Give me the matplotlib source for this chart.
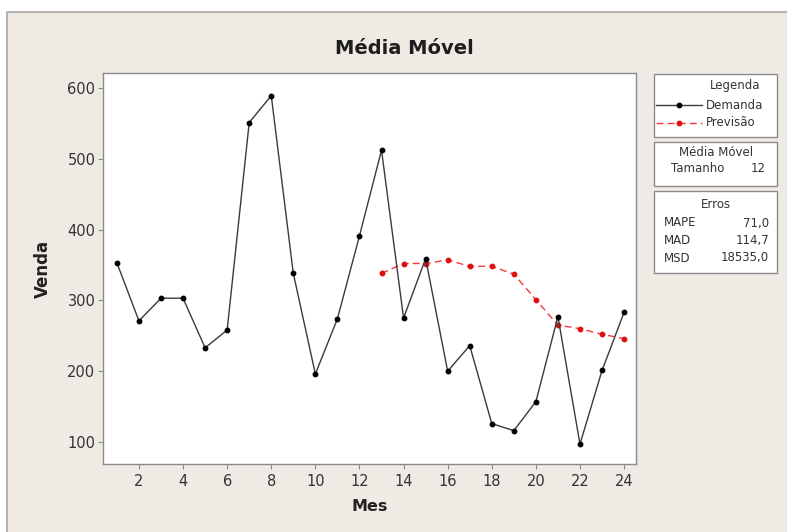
import matplotlib
matplotlib.use("Agg")
import matplotlib.pyplot as plt
from matplotlib.patches import Rectangle
from matplotlib.lines import Line2D

# ---- data ----
meses = list(range(1, 25))
demanda = [353, 271, 303, 303, 233, 258, 551, 589, 338, 196, 274, 391,
           512, 275, 359, 200, 236, 126, 116, 157, 277, 97, 201, 283]
meses_prev = list(range(13, 25))
previsao = [338, 352, 352, 357, 348, 348, 337, 301, 265, 260, 252, 246]
xticks = [2, 4, 6, 8, 10, 12, 14, 16, 18, 20, 22, 24]
yticks = [100, 200, 300, 400, 500, 600]
tamanho = 12
erros_lbl = ["MAPE", "MAD", "MSD"]
erros_val = ["71,0", "114,7", "18535,0"]

W, H = 787, 532
fig = plt.figure(figsize=(W / 100, H / 100), dpi=100)
fig.patch.set_facecolor("white")

def fx(px):
    return px / W

def fy(py):
    return 1 - py / H

beige = "#efebe4"
# panel background
fig.patches.append(Rectangle((fx(7), fy(540)), fx(800) - fx(7), fy(12) - fy(540),
                             transform=fig.transFigure, facecolor=beige,
                             edgecolor="#a8a6a2", linewidth=1.2, zorder=-10))

ax = fig.add_axes([fx(103), fy(464), fx(636) - fx(103), fy(73) - fy(464)])
ax.set_zorder(5)
ax.set_facecolor("white")
ax.plot(meses, demanda, color="#3a3a3a", linewidth=1.0, marker="o",
        markersize=3.2, markerfacecolor="black", markeredgecolor="black", zorder=3)
ax.plot(meses_prev, previsao, color="#f03a3a", linewidth=1.0, linestyle=(0, (5, 3)),
        marker="o", markersize=3.2, markerfacecolor="#e01010",
        markeredgecolor="#e01010", zorder=2)
ax.set_xlim(0.37, 24.54)
ax.set_ylim(68.9, 621)
ax.set_xticks(xticks)
ax.set_yticks(yticks)
for s in ax.spines.values():
    s.set_color("#8a8a8a")
    s.set_linewidth(1.0)
ax.tick_params(axis="both", direction="out", length=3.5, width=0.8, color="#8a8a8a",
               labelsize=10.5, labelcolor="#333333")
ax.tick_params(axis="x", pad=4)
ax.tick_params(axis="y", pad=2)
ax.set_xlabel("Mes", fontsize=11.5, fontweight="bold", color="#222222", labelpad=7)
ax.set_ylabel("Venda", fontsize=12, fontweight="bold", color="#222222", labelpad=11)

fig.text(fx(404), fy(49), "Média Móvel", fontsize=14, fontweight="bold",
         color="#1e1e1e", ha="center", va="center")

# legend boxes
def box(x0, y0, x1, y1):
    fig.patches.append(Rectangle((fx(x0), fy(y1)), fx(x1) - fx(x0), fy(y0) - fy(y1),
                                 transform=fig.transFigure, facecolor="white",
                                 edgecolor="#8a8a8a", linewidth=1.0, zorder=1))

box(654, 74, 777, 137)
box(654, 142, 777, 186)
box(654, 191, 777, 273)

fs = 8.5
tc = "#333333"
fig.text(fx(735), fy(86), "Legenda", fontsize=fs, color=tc, ha="center", va="center")
fig.lines.append(Line2D([fx(656), fx(702)], [fy(105), fy(105)], transform=fig.transFigure,
                        color="#3a3a3a", linewidth=1.0, marker=None, zorder=2))
fig.lines.append(Line2D([fx(679)], [fy(105)], transform=fig.transFigure,
                        color="black", marker="o", markersize=3.2, linestyle="none", zorder=2))
fig.text(fx(706), fy(105), "Demanda", fontsize=fs, color=tc, ha="left", va="center")
fig.lines.append(Line2D([fx(656), fx(702)], [fy(123), fy(123)], transform=fig.transFigure,
                        color="#f03a3a", linewidth=1.0, linestyle=(0, (5, 3)), zorder=2))
fig.lines.append(Line2D([fx(679)], [fy(123)], transform=fig.transFigure,
                        color="#e01010", marker="o", markersize=3.2, linestyle="none", zorder=2))
fig.text(fx(706), fy(123), "Previsão", fontsize=fs, color=tc, ha="left", va="center")

fig.text(fx(716), fy(152), "Média Móvel", fontsize=fs, color=tc, ha="center", va="center")
fig.text(fx(671), fy(169), "Tamanho", fontsize=fs, color=tc, ha="left", va="center")
fig.text(fx(766), fy(169), str(tamanho), fontsize=fs, color=tc, ha="right", va="center")

fig.text(fx(716), fy(205), "Erros", fontsize=fs, color=tc, ha="center", va="center")
for i, (l, v) in enumerate(zip(erros_lbl, erros_val)):
    yy = 223 + i * 17.5
    fig.text(fx(664), fy(yy), l, fontsize=fs, color=tc, ha="left", va="center")
    fig.text(fx(769), fy(yy), v, fontsize=fs, color=tc, ha="right", va="center")

fig.savefig("out.png", dpi=100, facecolor=fig.get_facecolor())
